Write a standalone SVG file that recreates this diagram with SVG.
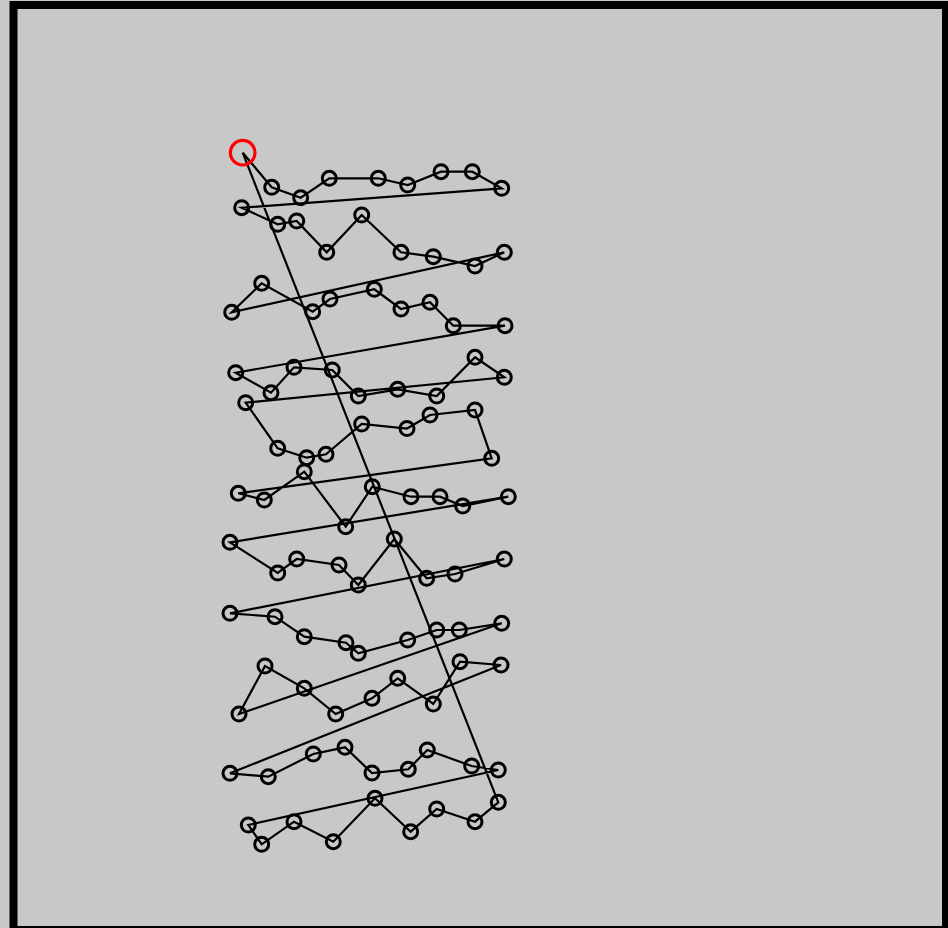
<svg xmlns="http://www.w3.org/2000/svg" width="948" height="928" viewBox="0 0 948 928">
<style>
.c{fill:none;stroke:#000;stroke-width:3}
.s{fill:none;stroke:#f00;stroke-width:3.2}
.e{fill:none;stroke:#000;stroke-width:2.2;stroke-linejoin:miter}
</style>
<rect x="0" y="0" width="948" height="928" fill="#c8c8c8"/>
<rect x="13.5" y="5" width="932.5" height="925" fill="#c8c8c8" stroke="#000" stroke-width="8"/>
<g id="connectors">
<path class="e" d="M242.7,152.7 L271.7,187.3 L300.7,197.7 L329.3,178.3 L378.3,178.3 L407.7,185 L441,171.7 L472.3,171.7 L501.7,188.3 L241.7,207.7 L277.7,224.3 L296.7,221 L326.7,252.3 L361.7,215 L401,252.3 L433.3,256.7 L475,266 L504.3,252.3 L231.7,312.3 L261.7,283.3 L312.7,311.7 L330,299 L374.3,289.3 L401,309 L430,302.3 L453.3,325.7 L505,325.7 L235.7,372.7 L271,392.7 L294,367.3 L332.3,370 L358.3,396 L397.7,389.3 L436.7,396 L475,357.3 L504.3,377.3 L245.7,402.7 L277.7,448.3 L306.7,457.7 L326,454.3 L361.7,424 L407,428.5 L430,415 L475,410 L491.7,458.3 L238.3,493.3 L264.3,500 L304.3,471.7 L345.7,526.7 L372.3,486.7 L411,496.7 L440,496.7 L462.7,506 L508.3,496.7 L230,542.3 L277.7,573 L296.7,559 L339,565 L358.3,585 L394.3,539 L426.7,578.3 L455,574 L504.3,559 L230,613.3 L275,616.7 L304.3,636.7 L346,642.7 L358.3,653.3 L407.7,640 L436.7,630 L459.3,630 L501.7,623.3 L239,714 L265,666 L304.3,688.3 L335.7,714 L372,698.3 L397.7,678.3 L433.3,704 L460,661.7 L501,665 L230,773.3 L268.3,776.7 L313.3,754 L345,747.3 L372,773 L408.3,769.3 L427.3,750 L471.7,766 L498.3,770 L248.3,825 L261.7,844.3 L294,821.7 L333.3,841.7 L375,798.3 L410.7,831.7 L436.7,809 L475,821.7 L498.3,802.3 Z"/>
</g>
<g id="nodes">
<g id="n1"><circle class="s" cx="242.7" cy="152.7" r="12.3"/></g>
<g id="n2"><circle class="c" cx="271.7" cy="187.3" r="7"/></g>
<g id="n3"><circle class="c" cx="300.7" cy="197.7" r="7"/></g>
<g id="n4"><circle class="c" cx="329.3" cy="178.3" r="7"/></g>
<g id="n5"><circle class="c" cx="378.3" cy="178.3" r="7"/></g>
<g id="n6"><circle class="c" cx="407.7" cy="185" r="7"/></g>
<g id="n7"><circle class="c" cx="441" cy="171.7" r="7"/></g>
<g id="n8"><circle class="c" cx="472.3" cy="171.7" r="7"/></g>
<g id="n9"><circle class="c" cx="501.7" cy="188.3" r="7"/></g>
<g id="n10"><circle class="c" cx="241.7" cy="207.7" r="7"/></g>
<g id="n11"><circle class="c" cx="277.7" cy="224.3" r="7"/></g>
<g id="n12"><circle class="c" cx="296.7" cy="221" r="7"/></g>
<g id="n13"><circle class="c" cx="326.7" cy="252.3" r="7"/></g>
<g id="n14"><circle class="c" cx="361.7" cy="215" r="7"/></g>
<g id="n15"><circle class="c" cx="401" cy="252.3" r="7"/></g>
<g id="n16"><circle class="c" cx="433.3" cy="256.7" r="7"/></g>
<g id="n17"><circle class="c" cx="475" cy="266" r="7"/></g>
<g id="n18"><circle class="c" cx="504.3" cy="252.3" r="7"/></g>
<g id="n19"><circle class="c" cx="231.7" cy="312.3" r="7"/></g>
<g id="n20"><circle class="c" cx="261.7" cy="283.3" r="7"/></g>
<g id="n21"><circle class="c" cx="312.7" cy="311.7" r="7"/></g>
<g id="n22"><circle class="c" cx="330" cy="299" r="7"/></g>
<g id="n23"><circle class="c" cx="374.3" cy="289.3" r="7"/></g>
<g id="n24"><circle class="c" cx="401" cy="309" r="7"/></g>
<g id="n25"><circle class="c" cx="430" cy="302.3" r="7"/></g>
<g id="n26"><circle class="c" cx="453.3" cy="325.7" r="7"/></g>
<g id="n27"><circle class="c" cx="505" cy="325.7" r="7"/></g>
<g id="n28"><circle class="c" cx="235.7" cy="372.7" r="7"/></g>
<g id="n29"><circle class="c" cx="271" cy="392.7" r="7"/></g>
<g id="n30"><circle class="c" cx="294" cy="367.3" r="7"/></g>
<g id="n31"><circle class="c" cx="332.3" cy="370" r="7"/></g>
<g id="n32"><circle class="c" cx="358.3" cy="396" r="7"/></g>
<g id="n33"><circle class="c" cx="397.7" cy="389.3" r="7"/></g>
<g id="n34"><circle class="c" cx="436.7" cy="396" r="7"/></g>
<g id="n35"><circle class="c" cx="475" cy="357.3" r="7"/></g>
<g id="n36"><circle class="c" cx="504.3" cy="377.3" r="7"/></g>
<g id="n37"><circle class="c" cx="245.7" cy="402.7" r="7"/></g>
<g id="n38"><circle class="c" cx="277.7" cy="448.3" r="7"/></g>
<g id="n39"><circle class="c" cx="306.7" cy="457.7" r="7"/></g>
<g id="n40"><circle class="c" cx="326" cy="454.3" r="7"/></g>
<g id="n41"><circle class="c" cx="361.7" cy="424" r="7"/></g>
<g id="n42"><circle class="c" cx="407" cy="428.5" r="7"/></g>
<g id="n43"><circle class="c" cx="430" cy="415" r="7"/></g>
<g id="n44"><circle class="c" cx="475" cy="410" r="7"/></g>
<g id="n45"><circle class="c" cx="491.7" cy="458.3" r="7"/></g>
<g id="n46"><circle class="c" cx="238.3" cy="493.3" r="7"/></g>
<g id="n47"><circle class="c" cx="264.3" cy="500" r="7"/></g>
<g id="n48"><circle class="c" cx="304.3" cy="471.7" r="7"/></g>
<g id="n49"><circle class="c" cx="345.7" cy="526.7" r="7"/></g>
<g id="n50"><circle class="c" cx="372.3" cy="486.7" r="7"/></g>
<g id="n51"><circle class="c" cx="411" cy="496.7" r="7"/></g>
<g id="n52"><circle class="c" cx="440" cy="496.7" r="7"/></g>
<g id="n53"><circle class="c" cx="462.7" cy="506" r="7"/></g>
<g id="n54"><circle class="c" cx="508.3" cy="496.7" r="7"/></g>
<g id="n55"><circle class="c" cx="230" cy="542.3" r="7"/></g>
<g id="n56"><circle class="c" cx="277.7" cy="573" r="7"/></g>
<g id="n57"><circle class="c" cx="296.7" cy="559" r="7"/></g>
<g id="n58"><circle class="c" cx="339" cy="565" r="7"/></g>
<g id="n59"><circle class="c" cx="358.3" cy="585" r="7"/></g>
<g id="n60"><circle class="c" cx="394.3" cy="539" r="7"/></g>
<g id="n61"><circle class="c" cx="426.7" cy="578.3" r="7"/></g>
<g id="n62"><circle class="c" cx="455" cy="574" r="7"/></g>
<g id="n63"><circle class="c" cx="504.3" cy="559" r="7"/></g>
<g id="n64"><circle class="c" cx="230" cy="613.3" r="7"/></g>
<g id="n65"><circle class="c" cx="275" cy="616.7" r="7"/></g>
<g id="n66"><circle class="c" cx="304.3" cy="636.7" r="7"/></g>
<g id="n67"><circle class="c" cx="346" cy="642.7" r="7"/></g>
<g id="n68"><circle class="c" cx="358.3" cy="653.3" r="7"/></g>
<g id="n69"><circle class="c" cx="407.7" cy="640" r="7"/></g>
<g id="n70"><circle class="c" cx="436.7" cy="630" r="7"/></g>
<g id="n71"><circle class="c" cx="459.3" cy="630" r="7"/></g>
<g id="n72"><circle class="c" cx="501.7" cy="623.3" r="7"/></g>
<g id="n73"><circle class="c" cx="239" cy="714" r="7"/></g>
<g id="n74"><circle class="c" cx="265" cy="666" r="7"/></g>
<g id="n75"><circle class="c" cx="304.3" cy="688.3" r="7"/></g>
<g id="n76"><circle class="c" cx="335.7" cy="714" r="7"/></g>
<g id="n77"><circle class="c" cx="372" cy="698.3" r="7"/></g>
<g id="n78"><circle class="c" cx="397.7" cy="678.3" r="7"/></g>
<g id="n79"><circle class="c" cx="433.3" cy="704" r="7"/></g>
<g id="n80"><circle class="c" cx="460" cy="661.7" r="7"/></g>
<g id="n81"><circle class="c" cx="501" cy="665" r="7"/></g>
<g id="n82"><circle class="c" cx="230" cy="773.3" r="7"/></g>
<g id="n83"><circle class="c" cx="268.3" cy="776.7" r="7"/></g>
<g id="n84"><circle class="c" cx="313.3" cy="754" r="7"/></g>
<g id="n85"><circle class="c" cx="345" cy="747.3" r="7"/></g>
<g id="n86"><circle class="c" cx="372" cy="773" r="7"/></g>
<g id="n87"><circle class="c" cx="408.3" cy="769.3" r="7"/></g>
<g id="n88"><circle class="c" cx="427.3" cy="750" r="7"/></g>
<g id="n89"><circle class="c" cx="471.7" cy="766" r="7"/></g>
<g id="n90"><circle class="c" cx="498.3" cy="770" r="7"/></g>
<g id="n91"><circle class="c" cx="248.3" cy="825" r="7"/></g>
<g id="n92"><circle class="c" cx="261.7" cy="844.3" r="7"/></g>
<g id="n93"><circle class="c" cx="294" cy="821.7" r="7"/></g>
<g id="n94"><circle class="c" cx="333.3" cy="841.7" r="7"/></g>
<g id="n95"><circle class="c" cx="375" cy="798.3" r="7"/></g>
<g id="n96"><circle class="c" cx="410.7" cy="831.7" r="7"/></g>
<g id="n97"><circle class="c" cx="436.7" cy="809" r="7"/></g>
<g id="n98"><circle class="c" cx="475" cy="821.7" r="7"/></g>
<g id="n99"><circle class="c" cx="498.3" cy="802.3" r="7"/></g>
</g>
</svg>
